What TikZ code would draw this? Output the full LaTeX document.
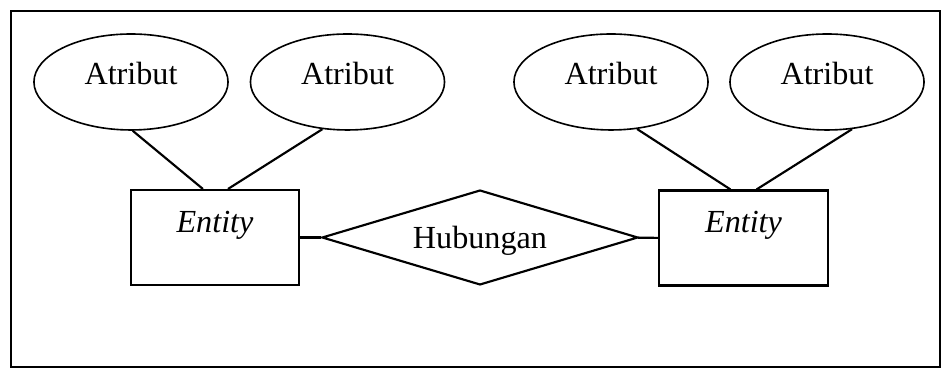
\documentclass[tikz,border=0pt]{standalone}
\usepackage{fontspec}
\setmainfont{Liberation Serif}
\usepackage{tikz}
\usetikzlibrary{shapes.geometric}

\begin{document}
\begin{tikzpicture}[x=0.373pt, y=-0.373pt]
		\tikzstyle{atribut}=[draw, semithick, ellipse, inner sep=0pt, minimum width=72.4pt, minimum height=35.8pt, text height=8.2pt, text depth=6pt]
		\tikzstyle{entitas}=[draw, thick, rectangle, inner sep=0pt, minimum width=62.8pt, minimum height=35.4pt, text height=8.2pt, text depth=12pt, font=\itshape]
		\tikzstyle{relasi}=[draw, thick, diamond, aspect=3.3, inner sep=0pt, minimum width=117.9pt, minimum height=35.4pt, text height=8.2pt, text depth=0pt]
		\fontsize{12}{14}\selectfont
		\useasboundingbox (0, 0) rectangle (942, 370);
		\draw[thick] (11, 11) rectangle (940, 367);
		\node[atribut] (a1) at (131, 82) {Atribut};
		\node[atribut] (a2) at (347.5, 82) {Atribut};
		\node[atribut] (a3) at (611, 82) {Atribut};
		\node[atribut] (a4) at (827, 82) {Atribut};
		\node[entitas] (e1) at (215, 237.5) {Entity};
		\node[entitas] (e2) at (743.5, 238) {Entity};
		\node[relasi] (h) at (480, 237.5) {Hubungan};
		\draw[thick] (a1.-88) -- (e1.104) (a2.-118) -- (e1.75)
		             (a3.-61) -- (e2.105) (a4.-62) -- (e2.75)
		             (e1) edge (h) (h) edge (e2);
	\end{tikzpicture}
\end{document}
